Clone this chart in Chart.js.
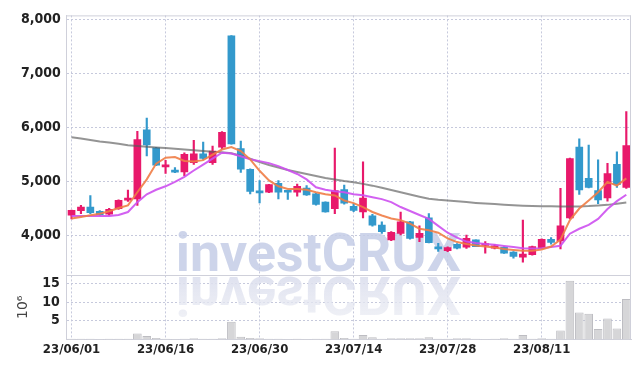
<!DOCTYPE html>
<html>
<head>
<meta charset="utf-8">
<script src="https://cdn.jsdelivr.net/npm/chart.js@4.4.0/dist/chart.umd.min.js"></script>
<style>
html, body { margin: 0; padding: 0; background: #fff; }
</style>
</head>
<body>
<canvas id="chart" width="639" height="368"></canvas>
<script>
const dates = [
    "23/06/01", "23/06/02", "23/06/05", "23/06/07", "23/06/08", "23/06/09", "23/06/12", "23/06/13", "23/06/14", "23/06/15",
    "23/06/16", "23/06/19", "23/06/20", "23/06/21", "23/06/22", "23/06/23", "23/06/26", "23/06/27", "23/06/28", "23/06/29",
    "23/06/30", "23/07/03", "23/07/04", "23/07/05", "23/07/06", "23/07/07", "23/07/10", "23/07/11", "23/07/12", "23/07/13",
    "23/07/14", "23/07/17", "23/07/18", "23/07/19", "23/07/20", "23/07/21", "23/07/24", "23/07/25", "23/07/26", "23/07/27",
    "23/07/28", "23/07/31", "23/08/01", "23/08/02", "23/08/03", "23/08/04", "23/08/07", "23/08/08", "23/08/09", "23/08/10",
    "23/08/11", "23/08/14", "23/08/16", "23/08/17", "23/08/18", "23/08/21", "23/08/22", "23/08/23", "23/08/24", "23/08/25",
];

const openPrices = [
    4373, 4457, 4525, 4446, 4391, 4494, 4653, 4676, 5956, 5622,
    5269, 5207, 5177, 5347, 5512, 5347, 5634, 7693, 5609, 5225,
    4812, 4799, 4963, 4817, 4799, 4878, 4768, 4616, 4494, 4848,
    4537, 4433, 4360, 4190, 3916, 4037, 4250, 3963, 4324, 3775,
    3715, 3836, 3781, 3916, 3812, 3762, 3781, 3689, 3598, 3642,
    3762, 3927, 3898, 4324, 5634, 5055, 4830, 4695, 5316, 4890,
];
const highPrices = [
    4470, 4556, 4739, 4460, 4500, 4660, 4841, 5927, 6170, 5630,
    5389, 5256, 5530, 5762, 5726, 5653, 5920, 7700, 5744, 5230,
    5013, 4945, 5013, 4830, 4951, 4921, 4780, 4620, 5616, 4932,
    4585, 5360, 4390, 4250, 4070, 4433, 4260, 4177, 4402, 3854,
    3790, 3850, 4007, 3920, 3885, 3830, 3790, 3700, 4282, 3800,
    3935, 3958, 4872, 5430, 5786, 5671, 5397, 5335, 5548, 6292,
];
const lowPrices = [
    4305, 4400, 4400, 4370, 4370, 4480, 4630, 4556, 5470, 5290,
    5146, 5160, 5104, 5316, 5408, 5316, 5600, 5690, 5165, 4768,
    4603, 4790, 4676, 4665, 4726, 4740, 4560, 4430, 4402, 4580,
    4440, 4324, 4170, 4037, 3900, 4007, 3930, 3885, 3860, 3702,
    3700, 3750, 3760, 3790, 3671, 3750, 3665, 3580, 3506, 3635,
    3755, 3836, 3751, 4310, 4757, 4880, 4585, 4634, 4890, 4870,
];
const closePrices = [
    4464, 4525, 4420, 4384, 4483, 4647, 4689, 5773, 5676, 5298,
    5298, 5170, 5499, 5512, 5426, 5561, 5909, 5695, 5225, 4812,
    4786, 4940, 4799, 4799, 4909, 4750, 4574, 4433, 4830, 4598,
    4464, 4689, 4190, 4068, 4055, 4250, 3945, 4037, 3867, 3751,
    3775, 3762, 3945, 3793, 3842, 3806, 3671, 3611, 3653, 3793,
    3927, 3872, 4177, 5420, 4841, 4890, 4658, 5146, 4940, 5664,
];

// volume in millions of shares
const volumes = [
    0.2, 0.15, 0.15, 0.1, 0.15, 0.2, 0.15, 1.6, 0.9, 0.4,
    0.15, 0.1, 0.15, 0.3, 0.15, 0.15, 0.3, 4.7, 0.7, 0.4,
    0.3, 0.15, 0.15, 0.1, 0.15, 0.1, 0.15, 0.2, 2.2, 0.4,
    0.2, 1.2, 0.6, 0.2, 0.3, 0.3, 0.3, 0.3, 0.6, 0.2,
    0.15, 0.3, 0.3, 0.15, 0.1, 0.15, 0.3, 0.15, 1.2, 0.2,
    0.3, 0.15, 2.4, 15.7, 7.2, 6.9, 2.8, 5.6, 2.9, 10.8,
];

const ma5 = [
    4311, 4342, 4373, 4402, 4446, 4506, 4556, 4799, 5037, 5329,
    5439, 5452, 5378, 5366, 5393, 5494, 5590, 5634, 5561, 5408,
    5196, 5018, 4909, 4859, 4859, 4845, 4799, 4762, 4739, 4647,
    4598, 4525, 4433, 4369, 4314, 4282, 4219, 4123, 4095, 4049,
    3945, 3876, 3839, 3812, 3794, 3775, 3748, 3730, 3715, 3715,
    3739, 3794, 3921, 4282, 4497, 4647, 4799, 4991, 4921, 5055,
];
const ma20 = [
    4360, 4360, 4360, 4360, 4360, 4378, 4433, 4616, 4762, 4845,
    4909, 4991, 5082, 5201, 5311, 5420, 5530, 5517, 5466, 5411,
    5375, 5338, 5283, 5210, 5137, 5037, 4890, 4845, 4817, 4799,
    4762, 4744, 4708, 4671, 4616, 4525, 4452, 4378, 4305, 4177,
    4049, 3958, 3885, 3857, 3839, 3825, 3803, 3784, 3762, 3757,
    3762, 3784, 3806, 4031, 4123, 4196, 4305, 4488, 4634, 4753,
];
const ma120 = [
    5817, 5795, 5768, 5740, 5718, 5695, 5671, 5654, 5640, 5627,
    5616, 5603, 5589, 5576, 5563, 5548, 5539, 5521, 5475, 5420,
    5356, 5302, 5256, 5210, 5174, 5137, 5101, 5064, 5033, 5005,
    4982, 4954, 4921, 4881, 4841, 4799, 4757, 4717, 4680, 4658,
    4644, 4631, 4616, 4601, 4589, 4580, 4569, 4558, 4550, 4543,
    4539, 4538, 4536, 4534, 4536, 4542, 4552, 4565, 4585, 4607,
];

const priceTicks = [4000, 5000, 6000, 7000, 8000];
const volumeTicks = [5, 10, 15];

const upColor = "#e8196b";
const downColor = "#3399cc";
const gridColor = "#c6c9dc";
const fontFamily = "'Liberation Sans Narrow', 'DejaVu Sans Condensed', sans-serif";
const yFont = { family: fontFamily, size: 14, weight: "bold" };
const xFont = { family: fontFamily, size: 13, weight: "bold" };

const bodies = openPrices.map((o, i) => [o, closePrices[i]]);
const wicks = lowPrices.map((l, i) => [l, highPrices[i]]);
const candleColors = openPrices.map((o, i) => (closePrices[i] >= o ? upColor : downColor));

// frame lines and the investCRUX watermark with its reflection
const framePlugin = {
    id: "frame",
    beforeDatasetsDraw(chart) {
        const { ctx, chartArea: a, scales } = chart;
        const base = scales.yv.top - 4;
        const text = "investCRUX";
        ctx.save();
        ctx.font = "bold 54px Roboto";
        const sx = 285 / ctx.measureText(text).width;
        const left = a.left + (a.right - a.left) * 0.193;

        ctx.save();
        ctx.translate(left, base);
        ctx.scale(sx, 1);
        ctx.fillStyle = "rgba(196, 204, 230, 0.85)";
        ctx.fillText(text, 0, 0);
        ctx.restore();

        ctx.save();
        ctx.translate(left, base + 6);
        ctx.scale(sx, -1);
        const g = ctx.createLinearGradient(0, 0, 0, -40);
        g.addColorStop(0, "rgba(220, 223, 238, 0.9)");
        g.addColorStop(1, "rgba(232, 234, 242, 0.7)");
        ctx.fillStyle = g;
        ctx.fillText(text, 0, 0);
        ctx.restore();
        ctx.restore();
    },
    afterDraw(chart) {
        const { ctx, chartArea: a, scales } = chart;
        ctx.save();
        ctx.strokeStyle = "#cfd0da";
        ctx.lineWidth = 1;
        ctx.beginPath();
        ctx.moveTo(a.left, a.top + 0.5);
        ctx.lineTo(a.right, a.top + 0.5);
        ctx.moveTo(a.right - 0.5, a.top);
        ctx.lineTo(a.right - 0.5, a.bottom);
        ctx.moveTo(a.left, Math.round(scales.yv.top) + 0.5);
        ctx.lineTo(a.right, Math.round(scales.yv.top) + 0.5);
        ctx.stroke();
        ctx.restore();
    },
};

new Chart(document.getElementById("chart"), {
    type: "bar",
    data: {
        labels: dates,
        datasets: [
            {
                type: "line",
                label: "MA5",
                data: ma5,
                yAxisID: "y",
                borderColor: "rgba(240, 125, 70, 0.9)",
                borderWidth: 2,
                pointRadius: 0,
                order: 0,
            },
            {
                type: "line",
                label: "MA20",
                data: ma20,
                yAxisID: "y",
                borderColor: "rgba(205, 80, 240, 0.9)",
                borderWidth: 2,
                pointRadius: 0,
                order: 0,
            },
            {
                type: "line",
                label: "MA120",
                data: ma120,
                yAxisID: "y",
                borderColor: "rgba(90, 90, 90, 0.65)",
                borderWidth: 2,
                pointRadius: 0,
                order: 0,
            },
            {
                label: "Wick",
                data: wicks,
                yAxisID: "y",
                backgroundColor: candleColors,
                barThickness: 1.5,
                grouped: false,
                order: 2,
            },
            {
                label: "Body",
                data: bodies,
                yAxisID: "y",
                backgroundColor: candleColors,
                borderWidth: 0,
                barThickness: 7,
                minBarLength: 2,
                grouped: false,
                order: 1,
            },
            {
                label: "Volume",
                data: volumes,
                yAxisID: "yv",
                backgroundColor: "#d6d6d8",
                borderColor: "#bdbdc2",
                borderWidth: 1,
                barPercentage: 0.92,
                categoryPercentage: 1,
                grouped: false,
                order: 3,
            },
        ],
    },
    options: {
        responsive: false,
        animation: false,
        layout: {
            padding: { top: 11, right: 8, left: 15, bottom: 9 },
        },
        plugins: {
            legend: { display: false },
            tooltip: { enabled: false },
        },
        scales: {
            x: {
                offset: true,
                grid: {
                    offset: false,
                    drawTicks: false,
                    color: (ctx) => (ctx.index % 10 === 0 ? gridColor : "transparent"),
                },
                border: { display: true, color: "#cfd0da", dash: [2, 2] },
                ticks: {
                    autoSkip: false,
                    maxRotation: 0,
                    padding: 2,
                    color: "#222",
                    font: xFont,
                    callback: (value, index) => (index % 10 === 0 ? dates[index] : ""),
                },
            },
            y: {
                position: "left",
                stack: "panels",
                stackWeight: 263,
                weight: 1,
                min: 3263,
                max: 8073,
                afterBuildTicks: (axis) => {
                    axis.ticks = priceTicks.map((v) => ({ value: v }));
                },
                grid: { color: gridColor, drawTicks: false },
                border: { display: true, color: "#cfd0da", dash: [2, 2] },
                ticks: {
                    padding: 6,
                    color: "#222",
                    font: yFont,
                    callback: (v) => v.toLocaleString("en-US"),
                },
            },
            yv: {
                position: "left",
                stack: "panels",
                stackWeight: 65,
                weight: 0,
                min: 0,
                max: 17.2,
                afterBuildTicks: (axis) => {
                    axis.ticks = volumeTicks.map((v) => ({ value: v }));
                },
                grid: { color: gridColor, drawTicks: false },
                border: { display: true, color: "#cfd0da", dash: [2, 2] },
                title: {
                    display: true,
                    text: "10\u2076",
                    color: "#444",
                    padding: 0,
                    font: { family: "'DejaVu Sans', sans-serif", size: 14 },
                },
                ticks: {
                    autoSkip: false,
                    padding: 7,
                    color: "#222",
                    font: yFont,
                },
            },
        },
    },
    plugins: [framePlugin],
});
</script>
</body>
</html>
